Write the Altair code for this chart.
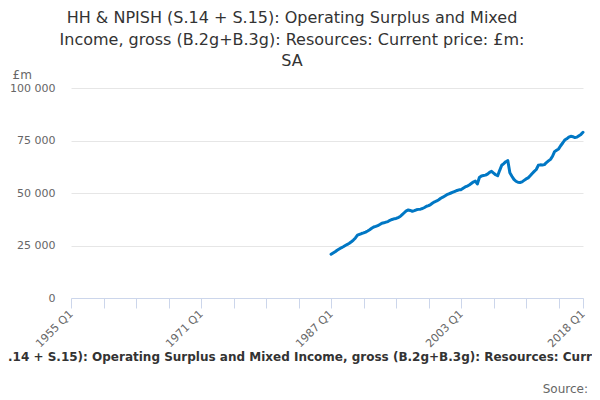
import altair as alt
import pandas as pd

# ---- data -------------------------------------------------------------
FIRST_YEAR = 1955          # first category on the axis
LAST_YEAR = 2018           # last category is LAST_YEAR Q1
DATA_START_YEAR = 1987     # series starts at 1987 Q1

values = [
    # 1987
    20800, 21400, 22000, 22700,
    # 1988
    23300, 23900, 24400, 25000,
    # 1989
    25500, 26100, 26800, 27600,
    # 1990
    28600, 29900, 30300, 30700,
    # 1991
    31000, 31400, 31900, 32500,
    # 1992
    33200, 33800, 34100, 34500,
    # 1993
    35000, 35600, 35800, 36100,
    # 1994
    36400, 37000, 37400, 37700,
    # 1995
    37900, 38300, 38800, 39700,
    # 1996
    40600, 41500, 41900, 41700,
    # 1997
    41300, 41600, 42000, 42200,
    # 1998
    42300, 42600, 43100, 43700,
    # 1999
    44000, 44500, 45200, 45800,
    # 2000
    46200, 46800, 47500, 48000,
    # 2001
    48600, 49200, 49600, 50000,
    # 2002
    50400, 50800, 51200, 51500,
    # 2003
    51600, 52300, 52900, 53300,
    # 2004
    53800, 54500, 55200, 55700,
    # 2005
    54300, 57400, 58100, 58300,
    # 2006
    58500, 59000, 59800, 60300,
    # 2007
    59500, 58700, 58200, 60800,
    # 2008
    63200, 64000, 64900, 65400,
    # 2009
    59600, 58000, 56500, 55600,
    # 2010
    55100, 55000, 55300, 56000,
    # 2011
    56700, 57200, 58200, 59300,
    # 2012
    60300, 61200, 63200, 63400,
    # 2013
    63300, 63500, 64500, 65300,
    # 2014
    66000, 67500, 69700, 70400,
    # 2015
    71000, 72500, 73800, 75200,
    # 2016
    75800, 76600, 77000, 76800,
    # 2017
    76400, 76600, 77300, 77900,
    # 2018
    78900,
]

all_quarters = [f"{y} Q{q}" for y in range(FIRST_YEAR, LAST_YEAR) for q in (1, 2, 3, 4)] + [f"{LAST_YEAR} Q1"]
data_quarters = [f"{y} Q{q}" for y in range(DATA_START_YEAR, LAST_YEAR) for q in (1, 2, 3, 4)] + [f"{LAST_YEAR} Q1"]

tick_values = [f"{y} Q1" for y in range(FIRST_YEAR, LAST_YEAR, 4)] + [f"{LAST_YEAR} Q1"]
label_values = ["1955 Q1", "1971 Q1", "1987 Q1", "2003 Q1", "2018 Q1"]
y_ticks = [0, 25000, 50000, 75000, 100000]

title_lines = [
    "HH & NPISH (S.14 + S.15): Operating Surplus and Mixed",
    "Income, gross (B.2g+B.3g): Resources: Current price: £m:",
    "SA",
]
series_name = ("HH & NPISH (S.14 + S.15): Operating Surplus and Mixed Income, gross "
               "(B.2g+B.3g): Resources: Current price: £m: SA")
source_text = "Source:"

df = pd.DataFrame({"quarter": data_quarters, "value": values})

FONT = "DejaVu Sans"
label_list = "[" + ",".join(f"'{v}'" for v in label_values) + "]"

line = alt.Chart(df).mark_line(
    color="#0077c4", strokeWidth=3, strokeCap="round", strokeJoin="round"
).encode(
    x=alt.X(
        "quarter:O",
        scale=alt.Scale(type="point", domain=all_quarters, padding=0),
        axis=alt.Axis(
            title=None,
            values=tick_values,
            labelExpr=f"indexof({label_list}, datum.value) >= 0 ? datum.value : ''",
            labelAngle=315,
            labelAlign="right",
            labelBaseline="middle",
            labelFont=FONT,
            labelFontSize=11,
            labelColor="#666666",
            labelPadding=4,
            tickSize=10,
            tickColor="#ccd6eb",
            domainColor="#ccd6eb",
            grid=False,
            labelOverlap=False,
        ),
    ),
    y=alt.Y(
        "value:Q",
        scale=alt.Scale(domain=[0, 100000], nice=False),
        axis=alt.Axis(
            title="£m",
            titleAngle=0,
            titleAlign="left",
            titleBaseline="middle",
            titleX=-59,
            titleY=-14,
            titleFont=FONT,
            titleFontSize=12,
            titleFontWeight="normal",
            titleColor="#666666",
            values=y_ticks,
            labelExpr="replace(format(datum.value, ','), ',', ' ')",
            labelFont=FONT,
            labelFontSize=11,
            labelColor="#666666",
            labelPadding=16,
            ticks=False,
            domain=False,
            gridColor="#e6e6e6",
        ),
    ),
)

legend_text = alt.Chart(pd.DataFrame({"t": [series_name]})).mark_text(
    font=FONT, fontSize=12, fontWeight="bold", color="#333333",
    align="center", baseline="middle",
).encode(text="t:N", x=alt.value(238), y=alt.value(269))

source = alt.Chart(pd.DataFrame({"t": [source_text]})).mark_text(
    font=FONT, fontSize=12, color="#666666", align="right", baseline="alphabetic",
).encode(text="t:N", x=alt.value(517), y=alt.value(305))

chart = alt.layer(line, legend_text, source).properties(
    width=512,
    height=210,
    autosize=alt.AutoSizeParams(type="none"),
    padding={"left": 63, "top": 80, "right": 9, "bottom": 100},
    title=alt.TitleParams(
        text=title_lines,
        font=FONT,
        fontSize=16,
        fontWeight="normal",
        color="#333333",
        anchor="middle",
        dx=-35,
        offset=-1,
        lineHeight=21.5,
    ),
).configure_view(stroke=None)

chart.save("out.html", embed_options={"renderer": "svg", "actions": False})
